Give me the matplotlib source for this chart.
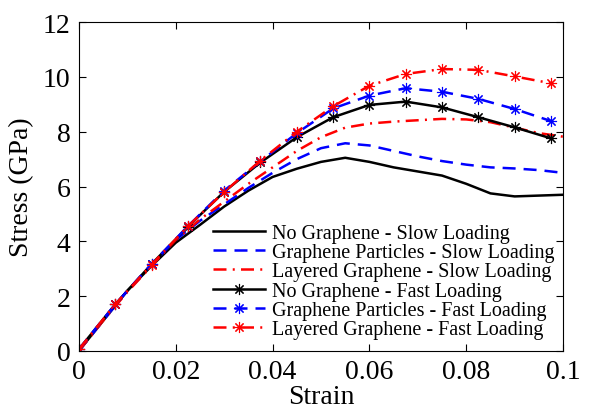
import numpy as np
import matplotlib
matplotlib.use('Agg')
import matplotlib.pyplot as plt

plt.rcParams['font.family'] = ['Liberation Serif', 'DejaVu Serif']

# Slow loading curves (no markers)
strain_slow = [0, 0.005, 0.01, 0.015, 0.02, 0.025, 0.03, 0.035, 0.04, 0.045, 0.05,
               0.055, 0.06, 0.065, 0.07, 0.075, 0.08, 0.085, 0.09, 0.095, 0.1]
no_graphene_slow = [0, 1.1, 2.2, 3.1, 3.95, 4.6, 5.27, 5.85, 6.35, 6.65, 6.9,
                    7.05, 6.9, 6.7, 6.55, 6.4, 6.1, 5.75, 5.64, 5.67, 5.7]
particles_slow = [0, 1.1, 2.2, 3.15, 4.05, 4.75, 5.35, 5.95, 6.5, 7.0, 7.4,
                  7.58, 7.5, 7.3, 7.1, 6.93, 6.8, 6.7, 6.66, 6.6, 6.5]
layered_slow = [0, 1.1, 2.15, 3.1, 4.05, 4.8, 5.45, 6.1, 6.7, 7.3, 7.8,
                8.15, 8.3, 8.37, 8.42, 8.47, 8.45, 8.35, 8.15, 7.95, 7.82]

# Fast loading curves (with markers)
strain_fast = [0, 0.0075, 0.015, 0.0225, 0.03, 0.0375, 0.045, 0.0525,
               0.06, 0.0675, 0.075, 0.0825, 0.09, 0.0975]
no_graphene_fast = [0.06, 1.7, 3.17, 4.53, 5.81, 6.88, 7.8, 8.53,
                    8.98, 9.1, 8.89, 8.53, 8.16, 7.76]
particles_fast = [0.06, 1.7, 3.17, 4.55, 5.85, 6.92, 7.95, 8.85,
                  9.32, 9.59, 9.46, 9.2, 8.83, 8.39]
layered_fast = [0.06, 1.7, 3.15, 4.55, 5.8, 6.95, 8.0, 8.93,
                9.68, 10.11, 10.29, 10.26, 10.02, 9.77]

fig = plt.figure(figsize=(5.89, 4.14), dpi=100)
ax = fig.add_axes([0.134, 0.150, 0.822, 0.794])

lw = 1.8
star = (8, 2, 0)
dash = (5.2, 3.2)
dashdot = (5.2, 2.5, 0.8, 2.5)
mk = dict(marker=star, ms=8, mew=0.8)

ax.plot(strain_slow, no_graphene_slow, '-', color='k', lw=lw, label='No Graphene - Slow Loading')
ax.plot(strain_slow, particles_slow, '--', dashes=dash, color='b', lw=lw,
        label='Graphene Particles - Slow Loading')
ax.plot(strain_slow, layered_slow, '-.', dashes=dashdot, color='r', lw=lw,
        label='Layered Graphene - Slow Loading')
ax.plot(strain_fast, no_graphene_fast, '-', color='k', lw=lw, **mk,
        label='No Graphene - Fast Loading')
ax.plot(strain_fast, particles_fast, '--', dashes=dash, color='b', lw=lw, **mk,
        label='Graphene Particles - Fast Loading')
ax.plot(strain_fast, layered_fast, '-.', dashes=dashdot, color='r', lw=lw, **mk,
        label='Layered Graphene - Fast Loading')

ax.set_xlim(0, 0.1)
ax.set_ylim(0, 12)
ax.set_xticks([0, 0.02, 0.04, 0.06, 0.08, 0.1])
ax.set_xticklabels(['0', '0.02', '0.04', '0.06', '0.08', '0.1'])
ax.set_yticks(range(0, 13, 2))
ax.tick_params(direction='in', top=True, right=True, labelsize=20, length=5, pad=6)
ax.set_xlabel('Strain', fontsize=20, labelpad=0)
ax.set_ylabel('Stress (GPa)', fontsize=20, labelpad=6)

leg = ax.legend(loc='lower right', fontsize=14.5, frameon=False, handlelength=2.6,
                handletextpad=0.35, labelspacing=0.0, borderaxespad=0.3,
                bbox_to_anchor=(1.012, -0.006))

fig.savefig('out.png', dpi=100)
